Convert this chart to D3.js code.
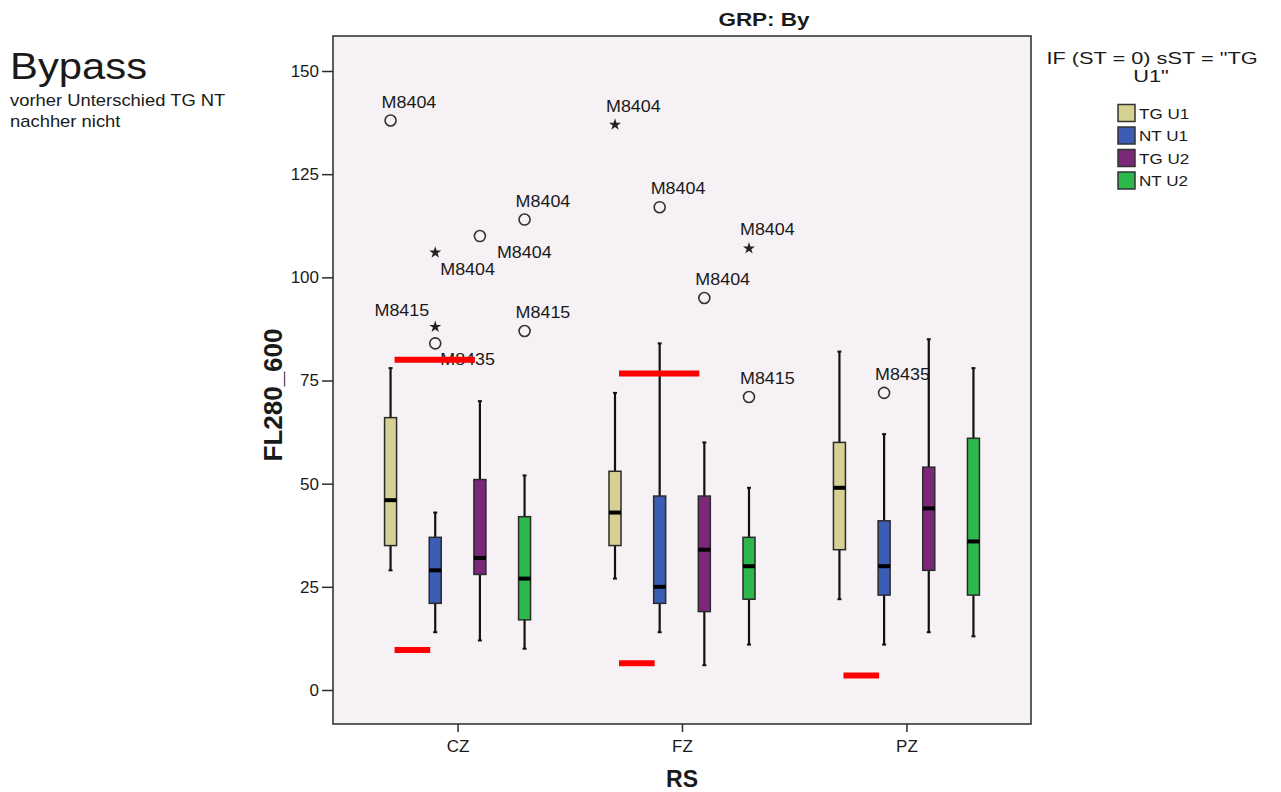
<!DOCTYPE html>
<html>
<head>
<meta charset="utf-8">
<script src="https://cdn.jsdelivr.net/npm/d3@7"></script>
<style>
  body { margin: 0; background: #fff; }
  text { font-family: Arial, "Liberation Sans", sans-serif; fill: #1a1a1a; }
</style>
</head>
<body>
<div class="box-plot"></div>
<script>
var categories = ["CZ", "FZ", "PZ"];
var series = ["TG U1", "NT U1", "TG U2", "NT U2"];
var yTicks = [0, 25, 50, 75, 100, 125, 150];

// one row per category, one column per series
var whiskerLow  = [[29, 14, 12, 10], [27, 14, 6, 11], [22, 11, 14, 13]];
var q1          = [[35, 21, 28, 17], [35, 21, 19, 22], [34, 23, 29, 23]];
var median      = [[46, 29, 32, 27], [43, 25, 34, 30], [49, 30, 44, 36]];
var q3          = [[66, 37, 51, 42], [53, 47, 47, 37], [60, 41, 54, 61]];
var whiskerHigh = [[78, 43, 70, 52], [72, 84, 60, 49], [82, 62, 85, 78]];

var outCat    = ["CZ", "CZ", "CZ", "CZ", "CZ", "CZ", "CZ", "FZ", "FZ", "FZ", "FZ", "FZ", "PZ"];
var outSeries = ["TG U1", "NT U1", "NT U1", "NT U1", "TG U2", "NT U2", "NT U2", "TG U1", "NT U1", "TG U2", "NT U2", "NT U2", "NT U1"];
var outValue  = [138, 106, 88, 84, 110, 114, 87, 137, 117, 95, 107, 71, 72];
var outLabel  = ["M8404", "M8404", "M8415", "M8435", "M8404", "M8404", "M8415", "M8404", "M8404", "M8404", "M8404", "M8415", "M8435"];
var outExtreme = [false, true, true, false, false, false, false, true, false, false, true, false, false];
var outLabelPos = ["above", "below", "aboveLeft", "below", "belowFar", "above", "above", "above", "above", "above", "above", "above", "above"];

// red reference marks drawn over the plot
var redCat   = ["CZ", "CZ", "FZ", "FZ", "PZ"];
var redValue = [80, 9.7, 76.7, 6.5, 3.5];
var redFrom  = ["TG U1", "TG U1", "TG U1", "TG U1", "TG U1"];
var redTo    = ["TG U2", "NT U1", "TG U2", "NT U1", "NT U1"];

var colors = ["#d6d092", "#3b5db3", "#7b2878", "#2cb84a"];

var frame = {left: 333, top: 36, width: 698, height: 688};

var svg = d3.select(".box-plot").append("svg")
    .attr("width", 1281)
    .attr("height", 792);

// text in the original is drawn horizontally stretched
function label(parent, x, y, str, size, sx, opts) {
  opts = opts || {};
  return parent.append("text")
      .attr("transform", "translate(" + x + "," + y + ") scale(" + sx + ",1)")
      .attr("text-anchor", opts.anchor || "start")
      .style("font-size", size + "px")
      .style("font-weight", opts.bold ? "bold" : "normal")
      .text(str);
}

label(svg, 10, 79, "Bypass", 37, 1.13);
label(svg, 10, 106, "vorher Unterschied TG NT", 16, 1.15);
label(svg, 10, 127, "nachher nicht", 16, 1.15);

label(svg, 764, 26, "GRP: By", 18, 1.25, {anchor: "middle", bold: true});

var g = svg.append("g")
    .attr("transform", "translate(" + frame.left + "," + frame.top + ")");

g.append("rect")
    .attr("width", frame.width)
    .attr("height", frame.height)
    .attr("fill", "#f6f1f5")
    .attr("stroke", "#2a2a2a")
    .attr("stroke-width", 1.5);

var y = d3.scaleLinear().domain([0, 150]).range([654, 35]);
var x = d3.scalePoint().domain(categories).range([0, frame.width]).padding(0.555);
var xs = d3.scalePoint().domain(series).range([-67, 67]);
var color = d3.scaleOrdinal().domain(series).range(colors);

var yAxis = d3.axisLeft(y).tickValues(yTicks).tickSize(11).tickPadding(3);
var xAxis = d3.axisBottom(x).tickSize(8).tickPadding(8);

var ya = g.append("g").attr("class", "y axis").call(yAxis);
var xa = g.append("g").attr("class", "x axis")
    .attr("transform", "translate(0," + frame.height + ")")
    .call(xAxis);
[ya, xa].forEach(function (a) {
  a.select(".domain").remove();
  a.selectAll(".tick line").attr("stroke", "#2a2a2a").attr("stroke-width", 1.5);
  a.selectAll(".tick text")
      .style("font-family", "Arial, 'Liberation Sans', sans-serif")
      .style("font-size", "17px")
      .attr("fill", "#333");
});

label(svg, 682, 787, "RS", 23, 1.0, {anchor: "middle", bold: true});
svg.append("text")
    .attr("transform", "translate(282,395) rotate(-90)")
    .attr("text-anchor", "middle")
    .style("font-size", "26px")
    .style("font-weight", "bold")
    .text("FL280_600");

// outliers and their case labels
var outliers = outValue.map(function (v, i) {
  return {cat: outCat[i], s: outSeries[i], v: v, name: outLabel[i], star: outExtreme[i], pos: outLabelPos[i]};
});

var labelOffset = {
  above: {dx: -9, dy: -13, anchor: "start"},
  below: {dx: 5, dy: 22, anchor: "start"},
  belowFar: {dx: 17, dy: 22, anchor: "start"},
  aboveLeft: {dx: -6, dy: -11, anchor: "end"}
};

outliers.forEach(function (d) {
  var px = x(d.cat) + xs(d.s), py = y(d.v);
  var o = labelOffset[d.pos];
  label(g, px + o.dx, py + o.dy, d.name, 16, 1.12, {anchor: o.anchor}).attr("fill", "#222");
  if (d.star) {
    g.append("path")
        .attr("d", d3.symbol().type(d3.symbolStar).size(45)())
        .attr("transform", "translate(" + px + "," + py + ")")
        .attr("fill", "#222");
  } else {
    g.append("circle")
        .attr("cx", px).attr("cy", py).attr("r", 5.5)
        .attr("fill", "none")
        .attr("stroke", "#333")
        .attr("stroke-width", 1.6);
  }
});

// boxes
var boxW = 12;
categories.forEach(function (c, ci) {
  series.forEach(function (s, si) {
    var cx = x(c) + xs(s);
    var bg = g.append("g");
    bg.append("line")
        .attr("x1", cx).attr("x2", cx)
        .attr("y1", y(whiskerLow[ci][si])).attr("y2", y(whiskerHigh[ci][si]))
        .attr("stroke", "#111").attr("stroke-width", 2.2);
    [whiskerLow[ci][si], whiskerHigh[ci][si]].forEach(function (w) {
      bg.append("line")
          .attr("x1", cx - 2).attr("x2", cx + 2)
          .attr("y1", y(w)).attr("y2", y(w))
          .attr("stroke", "#111").attr("stroke-width", 2);
    });
    bg.append("rect")
        .attr("x", cx - boxW / 2)
        .attr("y", y(q3[ci][si]))
        .attr("width", boxW)
        .attr("height", y(q1[ci][si]) - y(q3[ci][si]))
        .attr("fill", color(s))
        .attr("stroke", "#2a2a2a")
        .attr("stroke-width", 1.5);
    bg.append("line")
        .attr("x1", cx - boxW / 2).attr("x2", cx + boxW / 2)
        .attr("y1", y(median[ci][si])).attr("y2", y(median[ci][si]))
        .attr("stroke", "#000").attr("stroke-width", 4);
  });
});

// red marks
redValue.forEach(function (v, i) {
  g.append("line")
      .attr("x1", x(redCat[i]) + xs(redFrom[i]) + 4)
      .attr("x2", x(redCat[i]) + xs(redTo[i]) - 5)
      .attr("y1", y(v)).attr("y2", y(v))
      .attr("stroke", "#ff0000")
      .attr("stroke-width", 6);
});

// legend
label(svg, 1152, 64, "IF (ST = 0) sST = \"TG", 17, 1.28, {anchor: "middle"});
label(svg, 1151, 82, "U1\"", 17, 1.28, {anchor: "middle"});

var legend = svg.selectAll(".legend")
    .data(series)
    .enter().append("g")
    .attr("class", "legend")
    .attr("transform", function (d, i) { return "translate(1118," + (104.5 + i * 22.5) + ")"; });

legend.append("rect")
    .attr("width", 17)
    .attr("height", 17)
    .attr("fill", function (d) { return color(d); })
    .attr("stroke", "#333")
    .attr("stroke-width", 1.5);

legend.each(function (d) {
  label(d3.select(this), 21, 14, d, 14, 1.22);
});
</script>
</body>
</html>
